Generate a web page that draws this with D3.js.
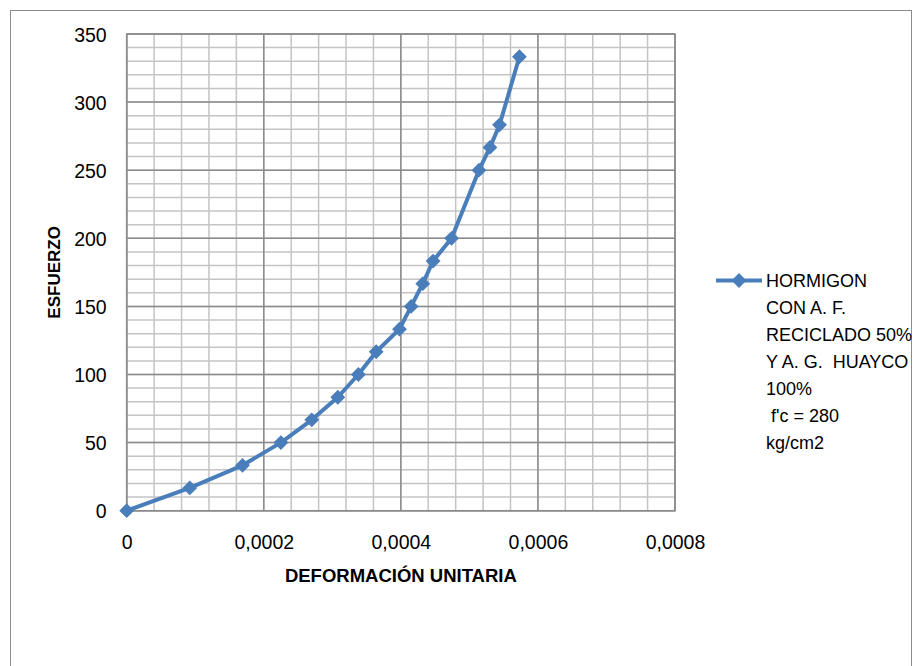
<!DOCTYPE html>
<html>
<head>
<meta charset="utf-8">
<script src="https://cdn.jsdelivr.net/npm/d3@7"></script>
<style>
  html, body { margin: 0; padding: 0; background: #fff; }
  svg { display: block; font-family: "Liberation Sans", Arial, sans-serif; }
</style>
</head>
<body>
<div id="chart"></div>
<script>
// deformación unitaria (x) y esfuerzo (y)
const strain = [0, 0.000092, 0.000169, 0.000225, 0.000270, 0.000308, 0.000338, 0.000364,
  0.000398, 0.000415, 0.000432, 0.000447, 0.000474, 0.000514, 0.000530, 0.000544, 0.000573];
const stress = [0, 16.7, 33.3, 50, 66.7, 83.3, 100, 116.7,
  133.3, 150, 166.7, 183.3, 200, 250, 266.7, 283.3, 333.3];

const xTicks = [0, 0.0002, 0.0004, 0.0006, 0.0008];
const yTicks = [0, 50, 100, 150, 200, 250, 300, 350];
const xMinor = d3.range(0, 21).map(i => i * 0.00004);
const yMinor = d3.range(0, 36).map(i => i * 10);

const legendLines = ["HORMIGON", "CON A. F.", "RECICLADO 50%", "Y A. G.  HUAYCO", "100%", " f'c = 280", "kg/cm2"];

const width = 914, height = 666;
const plotL = 126.7, plotR = 675, plotT = 34, plotB = 510.7;
const blue = "#4a7ebb";

const svg = d3.select("#chart").append("svg")
  .attr("width", width)
  .attr("height", height);

// borde exterior del gráfico
svg.append("rect")
  .attr("x", 10.5).attr("y", 10.5)
  .attr("width", 901).attr("height", 700)
  .attr("fill", "#fff")
  .attr("stroke", "#8c8c8c")
  .attr("stroke-width", 1);

const x = d3.scaleLinear().domain([0, 0.0008]).range([plotL, plotR]);
const y = d3.scaleLinear().domain([0, 350]).range([plotB, plotT]);

// grilla menor
svg.append("g").selectAll("line")
  .data(xMinor)
  .join("line")
  .attr("x1", d => x(d)).attr("x2", d => x(d))
  .attr("y1", plotT).attr("y2", plotB)
  .attr("stroke", "#c4c4c4").attr("stroke-width", 1.5);

svg.append("g").selectAll("line")
  .data(yMinor)
  .join("line")
  .attr("x1", plotL).attr("x2", plotR)
  .attr("y1", d => y(d)).attr("y2", d => y(d))
  .attr("stroke", "#c4c4c4").attr("stroke-width", 1.5);

// grilla mayor
svg.append("g").selectAll("line")
  .data(xTicks)
  .join("line")
  .attr("x1", d => x(d)).attr("x2", d => x(d))
  .attr("y1", plotT).attr("y2", plotB)
  .attr("stroke", "#8c8c8c").attr("stroke-width", 1.5);

svg.append("g").selectAll("line")
  .data(yTicks)
  .join("line")
  .attr("x1", plotL).attr("x2", plotR)
  .attr("y1", d => y(d)).attr("y2", d => y(d))
  .attr("stroke", "#8c8c8c").attr("stroke-width", 1.5);

svg.append("rect")
  .attr("x", plotL).attr("y", plotT)
  .attr("width", plotR - plotL).attr("height", plotB - plotT)
  .attr("fill", "none")
  .attr("stroke", "#8c8c8c").attr("stroke-width", 1.5);

// ejes (solo etiquetas)
const xAxis = svg.append("g")
  .attr("transform", `translate(0,${plotB})`)
  .call(d3.axisBottom(x).tickValues(xTicks).tickSize(0).tickPadding(0)
    .tickFormat(d => d === 0 ? "0" : d.toFixed(4).replace(".", ",")));
xAxis.select(".domain").remove();
xAxis.selectAll("text")
  .attr("dy", null)
  .attr("y", 38)
  .attr("fill", "#000")
  .style("font-size", "19.5px")
  .style("font-family", '"Liberation Sans", Arial, sans-serif');

const yAxis = svg.append("g")
  .attr("transform", `translate(${plotL},0)`)
  .call(d3.axisLeft(y).tickValues(yTicks).tickSize(0).tickPadding(0));
yAxis.select(".domain").remove();
yAxis.selectAll("text")
  .attr("x", -20)
  .attr("dy", "0.36em")
  .attr("fill", "#000")
  .style("font-size", "19.5px")
  .style("font-family", '"Liberation Sans", Arial, sans-serif');

// títulos de ejes
svg.append("text")
  .attr("x", (plotL + plotR) / 2)
  .attr("y", 582)
  .attr("text-anchor", "middle")
  .style("font-size", "18.5px")
  .style("font-weight", "bold")
  .text("DEFORMACIÓN UNITARIA");

svg.append("text")
  .attr("transform", `translate(60,${(plotT + plotB) / 2}) rotate(-90)`)
  .attr("text-anchor", "middle")
  .style("font-size", "17px")
  .style("font-weight", "bold")
  .text("ESFUERZO");

// serie
const pts = strain.map((s, i) => [s, stress[i]]);
const diamond = d3.symbol(d3.symbolSquare, 110);

svg.append("path")
  .datum(pts)
  .attr("fill", "none")
  .attr("stroke", blue)
  .attr("stroke-width", 4)
  .attr("stroke-linejoin", "round")
  .attr("d", d3.line().x(d => x(d[0])).y(d => y(d[1])));

svg.append("g").selectAll("path")
  .data(pts)
  .join("path")
  .attr("transform", d => `translate(${x(d[0])},${y(d[1])}) rotate(45)`)
  .attr("d", diamond)
  .attr("fill", blue);

// leyenda
const leg = svg.append("g");
leg.append("line")
  .attr("x1", 716).attr("x2", 762)
  .attr("y1", 280.5).attr("y2", 280.5)
  .attr("stroke", blue).attr("stroke-width", 4);
leg.append("path")
  .attr("transform", "translate(739,280.5) rotate(45)")
  .attr("d", diamond)
  .attr("fill", blue);
leg.selectAll("text")
  .data(legendLines)
  .join("text")
  .attr("x", 766)
  .attr("y", (d, i) => 287 + i * 27)
  .style("font-size", "18px")
  .style("white-space", "pre")
  .attr("xml:space", "preserve")
  .text(d => d);
</script>
</body>
</html>
